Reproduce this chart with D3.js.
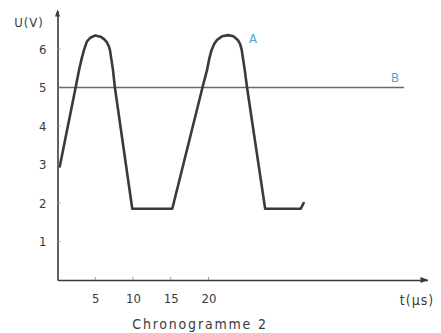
<!DOCTYPE html>
<html>
<head>
<meta charset="utf-8">
<script src="https://cdn.jsdelivr.net/npm/d3@7"></script>
<style>
  body { margin: 0; background: #fff; }
  text { font-family: "DejaVu Sans Condensed", "DejaVu Sans", sans-serif; fill: #3a3a3a; }
</style>
</head>
<body>
<div id="container"></div>
<script>
// signal A : time (µs) and voltage (V)
const timeA = [0.3, 2.4, 2.85, 3.2, 3.5, 3.9, 4.4, 5.0, 5.7, 6.2, 6.55, 6.8, 6.95, 7.35, 7.6, 9.9,
               15.2, 19.2, 19.8, 20.1, 20.4, 20.75, 21.1, 21.8, 22.6, 23.3, 23.9, 24.2, 24.4, 24.8, 25.1, 27.5, 32.2, 32.6];
const voltA = [2.95, 5.0, 5.45, 5.75, 5.97, 6.2, 6.3, 6.35, 6.32, 6.25, 6.17, 6.07, 5.97, 5.45, 5.0, 1.85,
               1.85, 5.0, 5.45, 5.75, 5.97, 6.13, 6.23, 6.33, 6.36, 6.33, 6.23, 6.12, 5.97, 5.45, 5.0, 1.85, 1.85, 2.0];
// signal B : constant level
const timeB = [0, 45.9];
const voltB = [5, 5];
const xTicks = [5, 10, 15, 20];
const yTicks = [1, 2, 3, 4, 5, 6];

const w = 441;
const h = 333;

const xScale = d3.scaleLinear().domain([0, 49]).range([57.5, 427.5]);
const yScale = d3.scaleLinear().domain([0, 7]).range([280, 10.5]);

const svg = d3.select("#container")
              .append("svg")
              .attr("width", w)
              .attr("height", h);

// axes
const xAxis = d3.axisBottom(xScale).tickValues(xTicks).tickFormat(d3.format("d")).tickSize(0).tickPadding(14);
const yAxis = d3.axisLeft(yScale).tickValues(yTicks).tickFormat(d3.format("d")).tickSize(0).tickPadding(11);

const gx = svg.append("g")
   .attr("transform", "translate(0," + yScale(0) + ")")
   .call(xAxis);
const gy = svg.append("g")
   .attr("transform", "translate(" + xScale(0) + ",0)")
   .call(yAxis);

[gx, gy].forEach(function(g){
    g.select(".domain").attr("stroke", "#3a3a3a").attr("stroke-width", 1.6);
    g.selectAll(".tick text").style("font-size", "13px").attr("fill", "#3a3a3a");
});

// small tick marks on the inside
svg.selectAll(".ytick")
   .data(yTicks)
   .enter()
   .append("line")
   .attr("x1", xScale(0))
   .attr("x2", xScale(0) + 3)
   .attr("y1", (d) => yScale(d))
   .attr("y2", (d) => yScale(d))
   .attr("stroke", "#999")
   .attr("stroke-width", 1);

svg.selectAll(".xtick")
   .data(xTicks)
   .enter()
   .append("line")
   .attr("x1", (d) => xScale(d))
   .attr("x2", (d) => xScale(d))
   .attr("y1", yScale(0))
   .attr("y2", yScale(0) - 3)
   .attr("stroke", "#999")
   .attr("stroke-width", 1);

// arrow heads
svg.append("path")
   .attr("d", "M" + (xScale(49) - 7) + "," + (yScale(0) - 3) + " L" + (xScale(49) + 1) + "," + yScale(0) + " L" + (xScale(49) - 7) + "," + (yScale(0) + 3) + "Z")
   .attr("fill", "#3a3a3a");
svg.append("path")
   .attr("d", "M" + (xScale(0) - 2.5) + "," + (yScale(7) + 6) + " L" + xScale(0) + "," + (yScale(7) - 1) + " L" + (xScale(0) + 2.5) + "," + (yScale(7) + 6) + "Z")
   .attr("fill", "#3a3a3a");

// line B
const lineB = d3.line()
                .x((d, i) => xScale(timeB[i]))
                .y((d, i) => yScale(voltB[i]));
svg.append("path")
   .datum(timeB)
   .attr("d", lineB)
   .attr("fill", "none")
   .attr("stroke", "#6a6a6a")
   .attr("stroke-width", 1.3);

// signal A
const lineA = d3.line()
                .x((d, i) => xScale(timeA[i]))
                .y((d, i) => yScale(voltA[i]));
svg.append("path")
   .datum(timeA)
   .attr("d", lineA)
   .attr("fill", "none")
   .attr("stroke", "#3a3a3a")
   .attr("stroke-width", 2.6)
   .attr("stroke-linejoin", "round")
   .attr("stroke-linecap", "round");

// labels
svg.append("text")
   .attr("x", 253)
   .attr("y", 43)
   .attr("text-anchor", "middle")
   .style("font-size", "13px")
   .style("fill", "#4aa6d6")
   .text("A");

svg.append("text")
   .attr("x", 395)
   .attr("y", 82)
   .attr("text-anchor", "middle")
   .style("font-size", "13px")
   .style("fill", "#4aa6d6")
   .text("B");

svg.append("text")
   .attr("x", 29)
   .attr("y", 27)
   .attr("text-anchor", "middle")
   .style("font-size", "13px")
   .style("letter-spacing", "1px")
   .text("U(V)");

svg.append("text")
   .attr("x", 417)
   .attr("y", 305)
   .attr("text-anchor", "middle")
   .style("font-size", "14px")
   .style("letter-spacing", "1px")
   .text("t(µs)");

svg.append("text")
   .attr("x", 200)
   .attr("y", 329)
   .attr("text-anchor", "middle")
   .style("font-size", "14px")
   .style("letter-spacing", "1.8px")
   .text("Chronogramme 2");
</script>
</body>
</html>
